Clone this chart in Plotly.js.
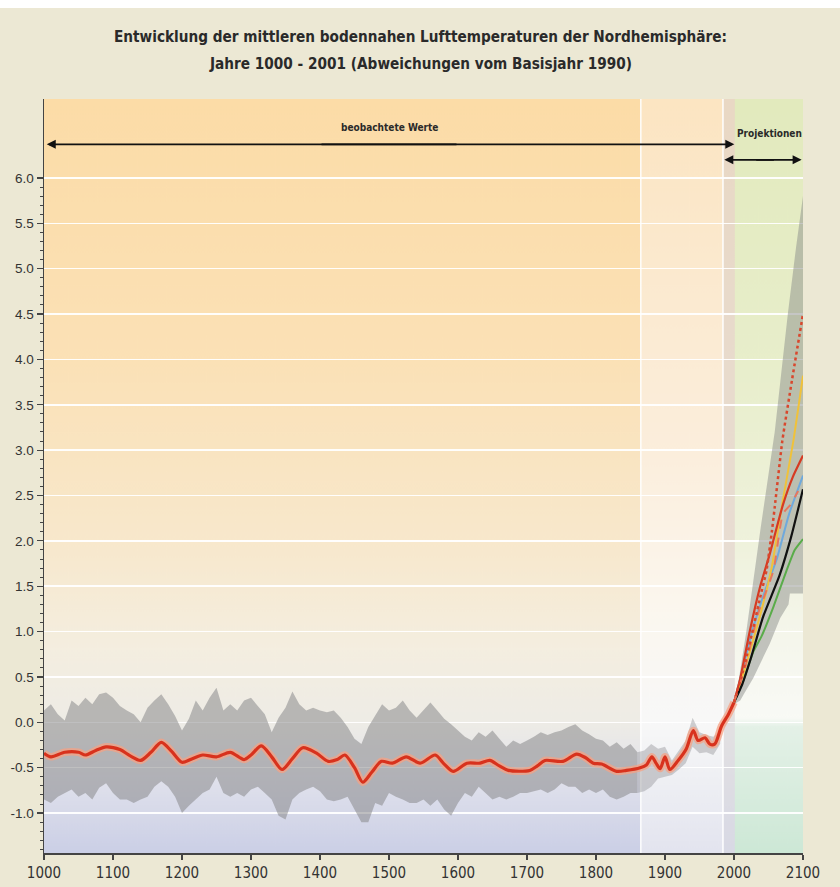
<!DOCTYPE html>
<html>
<head>
<meta charset="utf-8">
<script src="https://cdn.plot.ly/plotly-3.0.1.min.js"></script>
<style>
  html, body { margin:0; padding:0; background:#ffffff; width:840px; height:887px; overflow:hidden; }
  #chart { position:absolute; top:8px; left:0; width:840px; height:879px; }
</style>
</head>
<body>
<div id="chart"></div>
<script>
// ---------------- DATA ----------------
// Smoothed reconstruction (red line), years and deviations (°C)
const obsYears = [1000,1010,1030,1050,1060,1075,1090,1110,1125,1140,1155,1170,1185,1200,1215,1230,1250,1270,1290,1300,1315,1330,1345,1360,1375,1395,1412,1425,1436,1450,1462,1475,1489,1505,1525,1545,1567,1580,1593,1613,1632,1646,1660,1673,1704,1715,1726,1752,1772,1785,1796,1808,1830,1844,1864,1873,1881,1887,1893,1900,1907,1919,1931,1941,1948,1958,1965,1972,1982,1992,2000];
const obsValues = [-0.34,-0.38,-0.33,-0.33,-0.36,-0.31,-0.27,-0.30,-0.37,-0.42,-0.33,-0.22,-0.32,-0.44,-0.40,-0.36,-0.38,-0.33,-0.41,-0.36,-0.26,-0.38,-0.52,-0.40,-0.28,-0.34,-0.43,-0.41,-0.36,-0.50,-0.66,-0.55,-0.43,-0.45,-0.38,-0.45,-0.36,-0.46,-0.54,-0.45,-0.45,-0.42,-0.48,-0.53,-0.53,-0.48,-0.42,-0.43,-0.35,-0.39,-0.45,-0.46,-0.54,-0.53,-0.50,-0.47,-0.38,-0.45,-0.51,-0.38,-0.52,-0.42,-0.29,-0.09,-0.20,-0.17,-0.24,-0.24,-0.04,0.09,0.22];

// Uncertainty band (grey), 10-year resolution
const bandYears = [1000,1010,1020,1030,1040,1050,1060,1070,1080,1090,1100,1110,1120,1130,1140,1150,1160,1170,1180,1190,1200,1210,1220,1230,1240,1250,1260,1270,1280,1290,1300,1310,1320,1330,1340,1350,1360,1370,1380,1390,1400,1410,1420,1430,1440,1450,1460,1470,1480,1490,1500,1510,1520,1530,1540,1550,1560,1570,1580,1590,1600,1610,1620,1630,1640,1650,1660,1670,1680,1690,1700,1710,1720,1730,1740,1750,1760,1770,1780,1790,1800,1810,1820,1830,1840,1850,1860,1870,1880,1890,1900,1910,1920,1930,1940,1950,1960,1970,1980];
const bandUpper = [0.13,0.20,0.09,0.02,0.24,0.18,0.27,0.20,0.31,0.33,0.27,0.18,0.13,0.09,0.00,0.16,0.24,0.31,0.20,0.07,-0.09,0.04,0.24,0.13,0.27,0.38,0.13,0.20,0.13,0.24,0.27,0.18,0.09,-0.11,0.05,0.16,0.34,0.20,0.13,0.16,0.13,0.11,0.13,0.05,-0.05,-0.18,-0.24,-0.05,0.07,0.20,0.13,0.16,0.24,0.13,0.05,0.13,0.22,0.13,0.04,-0.02,-0.09,-0.16,-0.20,-0.11,-0.16,-0.09,-0.18,-0.27,-0.20,-0.24,-0.20,-0.16,-0.11,-0.14,-0.11,-0.09,-0.05,-0.02,-0.09,-0.13,-0.18,-0.20,-0.27,-0.22,-0.29,-0.24,-0.33,-0.31,-0.24,-0.29,-0.27,-0.42,-0.31,-0.20,0.05,-0.11,-0.14,-0.16,-0.09];
const bandLower = [-0.85,-0.89,-0.82,-0.78,-0.74,-0.82,-0.78,-0.85,-0.72,-0.67,-0.78,-0.85,-0.85,-0.89,-0.85,-0.82,-0.71,-0.65,-0.71,-0.82,-1.00,-0.92,-0.85,-0.78,-0.74,-0.60,-0.78,-0.82,-0.78,-0.82,-0.74,-0.71,-0.78,-0.85,-1.03,-1.07,-0.85,-0.78,-0.74,-0.71,-0.76,-0.85,-0.87,-0.85,-0.82,-0.96,-1.10,-1.10,-0.89,-0.92,-0.78,-0.82,-0.85,-0.89,-0.89,-0.85,-0.92,-0.85,-0.96,-1.03,-0.89,-0.78,-0.82,-0.71,-0.78,-0.85,-0.82,-0.85,-0.82,-0.78,-0.78,-0.76,-0.74,-0.78,-0.74,-0.67,-0.71,-0.71,-0.78,-0.74,-0.78,-0.74,-0.82,-0.85,-0.82,-0.78,-0.78,-0.76,-0.71,-0.62,-0.60,-0.58,-0.52,-0.45,-0.27,-0.34,-0.33,-0.36,-0.24];

// Projection envelope (grey)
const envUpperYears = [2000,2003,2018,2038,2059,2078,2090,2100];
const envUpperVals  = [0.20,0.28,1.01,2.11,3.20,4.50,5.24,5.80];
const envLowerYears = [2000,2009,2015,2028,2040,2052,2067,2079,2081,2100];
const envLowerVals  = [0.20,0.24,0.32,0.49,0.68,0.87,1.15,1.30,1.42,1.42];

// Projection scenarios
const projBlackYears = [2000,2012,2025,2042,2066,2083,2100];
const projBlackVals  = [0.22,0.42,0.72,1.16,1.62,2.05,2.57];
const projBlueYears  = [2000,2013,2028,2045,2062,2080,2100];
const projBlueVals   = [0.22,0.60,1.05,1.45,1.80,2.30,2.72];
const projGreenYears = [2000,2013,2028,2040,2057,2076,2088,2100];
const projGreenVals  = [0.22,0.45,0.78,0.95,1.27,1.67,1.90,2.02];
const projRedYears   = [2000,2009,2023,2038,2052,2062,2071,2085,2100];
const projRedVals    = [0.22,0.48,1.01,1.50,1.86,2.15,2.40,2.70,2.94];
const projYellowYears= [2000,2018,2042,2055,2069,2086,2100];
const projYellowVals = [0.22,0.65,1.30,1.72,2.37,3.10,3.82];
const projDotYears   = [2000,2016,2038,2047,2055,2059,2070,2084,2100];
const projDotVals    = [0.22,0.65,1.38,1.67,2.11,2.37,3.10,3.77,4.50];
const projDashYears  = [2000,2016,2035,2057,2071,2082,2093];
const projDashVals   = [0.22,0.60,1.20,1.67,2.30,2.40,2.55];

// Axis ticks
const xTicks = [1000,1100,1200,1300,1400,1500,1600,1700,1800,1900,2000,2100];
const xTickLabels = ['1000','1100','1200','1300','1400','1500','1600','1700','1800','1900','2000','2100'];
const yTicks = [-1.0,-0.5,0.0,0.5,1.0,1.5,2.0,2.5,3.0,3.5,4.0,4.5,5.0,5.5,6.0];
const yTickLabels = ['-1.0','-0.5','0.0','0.5','1.0','1.5','2.0','2.5','3.0','3.5','4.0','4.5','5.0','5.5','6.0'];

// Texts
const titleLine1 = 'Entwicklung der mittleren bodennahen Lufttemperaturen der Nordhemisphäre:';
const titleLine2 = 'Jahre 1000 - 2001 (Abweichungen vom Basisjahr 1990)';
const labelObserved = 'beobachtete Werte';
const labelProjected = 'Projektionen';

// ---------------- BACKGROUND ----------------
const Y_TOP = 6.87, Y_BOT = -1.44, X0 = 1000, X1 = 2100;
function makeBackground() {
  const W = 1100, H = 831;
  const c = document.createElement('canvas');
  c.width = W; c.height = H;
  const ctx = c.getContext('2d');
  const span = Y_TOP - Y_BOT;
  const frac = v => Math.min(1, Math.max(0, (Y_TOP - v) / span));
  function zone(a, b, stops) {
    const g = ctx.createLinearGradient(0, 0, 0, H);
    stops.forEach(s => g.addColorStop(frac(s[0]), s[1]));
    ctx.fillStyle = g;
    ctx.fillRect(a - X0, 0, b - a, H);
  }
  zone(1000, 1865, [[6.87,'#fcdca7'],[4.0,'#fbe1b6'],[2.0,'#f8e8cc'],[0.8,'#f4eee0'],[0.0,'#eeece6'],[-0.6,'#e1e2ec'],[-1.44,'#cbcfe6']]);
  zone(1865, 1984, [[6.87,'#fce5c2'],[3.0,'#fbeedc'],[1.2,'#fbf7ef'],[0.0,'#f8f8f8'],[-0.6,'#eff0f4'],[-1.44,'#e3e4ef']]);
  zone(1984, 2001, [[6.87,'#e9d8c4'],[2.0,'#e8ddd2'],[0.0,'#e3e1e2'],[-1.44,'#d8d9e5']]);
  zone(2001, 2100, [[6.87,'#e2eabd'],[4.0,'#e8eecb'],[2.0,'#eff2dc'],[1.0,'#f5f6eb'],[0.05,'#f9faf6'],[-0.05,'#e4f1e7'],[-1.44,'#cde8d6']]);
  ctx.fillStyle = 'rgba(255,255,255,0.95)';
  ctx.fillRect(1865 - X0 - 1, 0, 2, H);
  ctx.fillRect(1984 - X0 - 1, 0, 2, H);
  return c.toDataURL('image/png');
}

// ---------------- TRACES ----------------
const splitIdx = bandYears.indexOf(1860);
const traces = [];
traces.push({x: bandYears.slice(0, splitIdx + 1), y: bandLower.slice(0, splitIdx + 1), mode:'lines', line:{width:0, color:'rgba(0,0,0,0)'}, hoverinfo:'skip'});
traces.push({x: bandYears.slice(0, splitIdx + 1), y: bandUpper.slice(0, splitIdx + 1), mode:'lines', fill:'tonexty', fillcolor:'rgba(132,132,134,0.52)', line:{width:0, color:'rgba(0,0,0,0)'}, hoverinfo:'skip'});
traces.push({x: bandYears.slice(splitIdx), y: bandLower.slice(splitIdx), mode:'lines', line:{width:0, color:'rgba(0,0,0,0)'}, hoverinfo:'skip'});
traces.push({x: bandYears.slice(splitIdx), y: bandUpper.slice(splitIdx), mode:'lines', fill:'tonexty', fillcolor:'rgba(140,140,145,0.40)', line:{width:0, color:'rgba(0,0,0,0)'}, hoverinfo:'skip'});
traces.push({
  x: envUpperYears.concat(envLowerYears.slice().reverse()),
  y: envUpperVals.concat(envLowerVals.slice().reverse()),
  mode:'lines', fill:'toself', fillcolor:'rgba(135,138,135,0.48)', line:{width:0, color:'rgba(0,0,0,0)'}, hoverinfo:'skip'
});
traces.push({x: obsYears, y: obsValues, mode:'lines', line:{color:'rgba(246,162,132,0.75)', width:7.5, shape:'spline', smoothing:0.8}, hoverinfo:'skip'});
traces.push({x: obsYears, y: obsValues, mode:'lines', line:{color:'#d8321d', width:3.2, shape:'spline', smoothing:0.8}});
function proj(xs, ys, color, width, dash) {
  return {x: xs, y: ys, mode:'lines', line:{color: color, width: width, dash: dash || 'solid', shape:'spline', smoothing:0.5}};
}
traces.push(proj(projGreenYears, projGreenVals, '#5aac4a', 2));
traces.push(proj(projBlueYears, projBlueVals, '#6fa9dc', 2));
traces.push(proj(projYellowYears, projYellowVals, '#f0c23a', 2));
traces.push(proj(projBlackYears, projBlackVals, '#111111', 2.2));
traces.push(proj(projRedYears, projRedVals, '#d63a22', 2.2));
traces.push(proj(projDashYears, projDashVals, '#e8765c', 2, 'dash'));
traces.push(proj(projDotYears, projDotVals, '#d9472d', 2.5, 'dot'));

// ---------------- LAYOUT ----------------
const minorVals = [];
for (let i = -14; i <= 60; i++) { if (i % 5 !== 0) minorVals.push(i / 10); }

const CONDENSED = "'DejaVu Sans Condensed', 'Liberation Sans', sans-serif";
const arrowStyle = {showarrow:true, text:'', arrowhead:2, arrowsize:1, arrowwidth:1.8, arrowcolor:'#111', axref:'x', ayref:'y', xref:'x', yref:'y'};
const layout = {
  width: 840, height: 879,
  margin: {l:44, r:37, t:91, b:34, pad:0},
  paper_bgcolor: '#ece8d4',
  plot_bgcolor: '#ece8d4',
  showlegend: false,
  hovermode: false,
  xaxis: {
    range: [X0, X1], tickmode:'array', tickvals: xTicks, ticktext: xTickLabels,
    ticks:'outside', ticklen:5, tickwidth:1.2, tickcolor:'#444',
    showline:true, linecolor:'#444', linewidth:1.5, showgrid:false, zeroline:false,
    tickfont:{family:CONDENSED, size:15, color:'#333'}, fixedrange:true
  },
  yaxis: {
    range: [Y_BOT, Y_TOP], tickmode:'array', tickvals: yTicks, ticktext: yTickLabels,
    ticks:'outside', ticklen:6, tickwidth:1.2, tickcolor:'#444',
    showline:true, linecolor:'#444', linewidth:1.5,
    showgrid:true, gridcolor:'rgba(255,255,255,0.95)', gridwidth:1.5, zeroline:false,
    minor:{tickmode:'array', tickvals: minorVals, ticks:'outside', ticklen:3, tickwidth:1, tickcolor:'#444', showgrid:false},
    tickfont:{family:'Liberation Sans', size:13.5, color:'#333'}, fixedrange:true
  },
  images: [{
    source: makeBackground(), xref:'x', yref:'y', x:X0, y:Y_TOP, sizex:X1 - X0, sizey:Y_TOP - Y_BOT,
    sizing:'stretch', xanchor:'left', yanchor:'top', layer:'below'
  }],
  annotations: [
    {xref:'paper', yref:'paper', x:0.4954, y:1.0822, yanchor:'middle', showarrow:false,
     text:'<b>' + titleLine1 + '</b>', font:{family:CONDENSED, size:15.2, color:'#2a2a2a'}},
    {xref:'paper', yref:'paper', x:0.4954, y:1.0464, yanchor:'middle', showarrow:false,
     text:'<b>' + titleLine2 + '</b>', font:{family:CONDENSED, size:15.2, color:'#2a2a2a'}},
    {xref:'x', yref:'y', x:1500, y:6.557, showarrow:false, text:'<b>' + labelObserved + '</b>',
     font:{family:CONDENSED, size:10, color:'#2a2a2a'}},
    {xref:'x', yref:'y', x:2051, y:6.49, showarrow:false, text:'<b>' + labelProjected + '</b>',
     font:{family:CONDENSED, size:10, color:'#2a2a2a'}},
    Object.assign({x:1004, y:6.37, ax:1600, ay:6.37}, arrowStyle),
    Object.assign({x:2000.5, y:6.37, ax:1400, ay:6.37}, arrowStyle),
    Object.assign({x:1986, y:6.20, ax:2060, ay:6.20}, arrowStyle),
    Object.assign({x:2098, y:6.20, ax:2030, ay:6.20}, arrowStyle)
  ]
};

Plotly.newPlot('chart', traces, layout, {displayModeBar:false, staticPlot:true});
</script>
</body>
</html>
